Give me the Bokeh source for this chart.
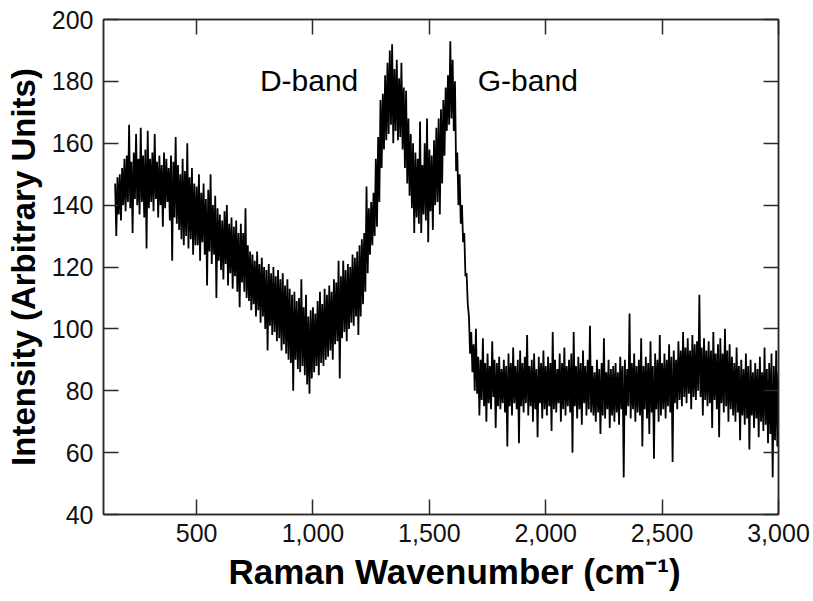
import numpy as np
from bokeh.plotting import figure
from bokeh.models import (LinearAxis, FixedTicker, NumeralTickFormatter, Label, Range1d,
                          CustomLabelingPolicy, Title)
from bokeh.embed import file_html
from bokeh.resources import INLINE

wavenumber_start = 150
wavenumber_step = 5
intensity = [
    147, 130, 149, 137, 150, 135, 152, 140, 155, 138,                                     # 150-195
    156, 141, 166, 139, 154, 131, 157, 142, 163, 140, 155, 137, 165, 141, 156, 136, 158, 126, 164, 139,  # 200
    155, 141, 157, 138, 163, 142, 154, 136, 156, 140, 153, 133, 157, 139, 155, 141, 152, 135, 156, 122,  # 300
    154, 136, 162, 134, 153, 132, 150, 129, 155, 127, 151, 130, 160, 126, 149, 129, 152, 124, 147, 127,  # 400
    146, 127, 150, 122, 144, 128, 147, 124, 142, 114, 145, 125, 150, 121, 140, 124, 143, 110, 139, 122,  # 500
    137, 119, 135, 116, 138, 121, 140, 114, 134, 118, 136, 113, 133, 117, 135, 112, 131, 107, 134, 115,  # 600
    131, 112, 139, 110, 127, 109, 125, 106, 124, 108, 122, 104, 125, 106, 121, 102, 123, 104, 120, 100,  # 700
    119, 93, 121, 101, 118, 98, 120, 99, 117, 96, 119, 97, 116, 93, 118, 95, 114, 92, 116, 90,            # 800
    113, 89, 111, 80, 112, 90, 109, 87, 110, 86, 116, 88, 107, 85, 111, 82, 104, 79, 106, 84,             # 900
    107, 86, 105, 88, 109, 85, 112, 89, 108, 88, 113, 90, 111, 91, 114, 93, 112, 90, 116, 95,             # 1000
    115, 96, 122, 84, 117, 97, 122, 99, 119, 96, 121, 100, 120, 102, 124, 101, 123, 104, 125, 98,         # 1100
    127, 104, 129, 108, 131, 112, 146, 118, 139, 124, 141, 127, 144, 130, 155, 133, 162, 141, 174, 152,  # 1200
    176, 158, 182, 161, 186, 163, 190, 166, 192, 160, 184, 164, 187, 161, 181, 162, 186, 158, 178, 152,  # 1300
    177, 147, 168, 143, 163, 139, 160, 131, 157, 136, 155, 134, 167, 131, 153, 137, 160, 135, 168, 128,  # 1400
    158, 138, 156, 132, 161, 140, 165, 141, 168, 137, 171, 147, 174, 156, 178, 164, 182, 166, 193, 168,  # 1500
    187, 164, 180, 151, 157, 140, 150, 134, 140, 128, 131, 117, 118, 108, 104, 92, 99, 86, 95, 80,       # 1600
    100, 79, 91, 72, 90, 77, 97, 75, 89, 70, 92, 76, 88, 74, 96, 78, 90, 68, 89, 75,                     # 1700
    91, 74, 87, 76, 90, 73, 88, 62, 92, 75, 89, 72, 94, 76, 88, 74, 90, 63, 93, 75,                      # 1800
    89, 73, 91, 76, 98, 72, 88, 75, 90, 70, 92, 74, 87, 65, 91, 76, 89, 71, 93, 74,                      # 1900
    88, 72, 91, 75, 89, 67, 99, 74, 90, 73, 87, 76, 92, 70, 89, 74, 94, 72, 88, 75,                      # 2000
    90, 73, 92, 60, 99, 75, 88, 71, 91, 74, 89, 69, 93, 76, 88, 72, 90, 74, 101, 73,                     # 2100
    88, 72, 86, 70, 90, 73, 87, 66, 89, 72, 97, 71, 86, 74, 90, 68, 87, 72, 88, 70,                      # 2200
    89, 73, 86, 69, 91, 74, 88, 52, 90, 72, 87, 75, 105, 71, 89, 74, 92, 70, 88, 73,                     # 2300
    90, 72, 97, 62, 88, 74, 91, 71, 89, 66, 96, 73, 88, 58, 92, 74, 90, 70, 98, 72,                      # 2400
    89, 74, 92, 71, 90, 75, 95, 73, 91, 57, 93, 76, 90, 74, 96, 77, 93, 75, 99, 78,                      # 2500
    94, 76, 97, 79, 93, 74, 98, 78, 95, 77, 96, 80, 111, 78, 94, 72, 97, 77, 93, 75,                     # 2600
    96, 76, 93, 68, 99, 77, 92, 74, 95, 65, 97, 76, 92, 73, 100, 75, 93, 70, 95, 74,                     # 2700
    91, 72, 89, 70, 94, 73, 88, 64, 90, 72, 87, 69, 92, 71, 88, 61, 90, 72, 86, 68,                      # 2800
    89, 71, 87, 65, 91, 70, 86, 67, 94, 69, 87, 63, 89, 66, 92, 52, 88, 64, 93, 62, 86,                  # 2900-3000
]

x_ticks = [500, 1000, 1500, 2000, 2500, 3000]
y_ticks = [40, 60, 80, 100, 120, 140, 160, 180, 200]
band_names = ["D-band", "G-band"]
band_name_x = [772, 1708]
band_name_y = [180.4, 180.4]
x_title = "Raman Wavenumber (cm\u207b\u00b9)"
y_title = "Intensity (Arbitrary Units)"

wavenumber = wavenumber_start + wavenumber_step * np.arange(len(intensity))

FONT = "Liberation Sans"
AXIS_COLOR = "#2b2b2b"

p = figure(width=813, height=601,
           x_range=Range1d(100, 3000), y_range=Range1d(40, 200),
           output_backend="svg", toolbar_location=None,
           min_border_left=103, min_border_right=35,
           min_border_top=19, min_border_bottom=87)

p.line(wavenumber, intensity, line_color="black", line_width=1.8)

p.grid.visible = False
p.outline_line_color = AXIS_COLOR
p.outline_line_width = 1.5
p.background_fill_color = "white"
p.border_fill_color = "white"

NO_LABELS = """
const n = indices.size;
for (let i = 0; i < n; i++) { indices.unset(i); }
return indices;
"""


def style_axis(ax, show_labels=True):
    ax.major_tick_in = 15
    ax.major_tick_out = 0
    ax.minor_tick_in = 0
    ax.minor_tick_out = 0
    ax.major_tick_line_color = AXIS_COLOR
    ax.major_tick_line_width = 1.5
    ax.axis_line_color = AXIS_COLOR
    ax.axis_line_width = 1.5
    ax.major_label_text_font = FONT
    ax.major_label_text_color = "#111111"
    ax.major_label_text_font_size = "25px"
    if not show_labels:
        ax.major_label_policy = CustomLabelingPolicy(code=NO_LABELS)
        ax.major_label_text_font_size = "1px"
        ax.major_label_standoff = 0
    ax.axis_label_text_font = FONT
    ax.axis_label_text_font_style = "bold"
    ax.axis_label_text_font_size = "33px"
    ax.axis_label_text_color = "black"


xa = p.xaxis[0]
ya = p.yaxis[0]
xa.ticker = FixedTicker(ticks=x_ticks)
xa.formatter = NumeralTickFormatter(format="0,0")
ya.ticker = FixedTicker(ticks=y_ticks)
style_axis(xa)
style_axis(ya)
xa.major_label_standoff = 9
ya.major_label_standoff = 10
ya.axis_label = y_title
ya.axis_label_standoff = 7

top = LinearAxis(ticker=FixedTicker(ticks=x_ticks))
right = LinearAxis(ticker=FixedTicker(ticks=y_ticks))
style_axis(top, show_labels=False)
style_axis(right, show_labels=False)
p.add_layout(top, "above")
p.add_layout(right, "right")

# x-axis title, set slightly right of the frame centre as in the reference
p.add_layout(Title(text=x_title, align="left", offset=125, standoff=10,
                   text_font=FONT, text_font_size="35px", text_font_style="bold",
                   text_color="black"), "below")

for name, bx, by in zip(band_names, band_name_x, band_name_y):
    p.add_layout(Label(x=bx, y=by, text=name, text_font=FONT, text_font_size="30px",
                       text_color="black", text_align="left", text_baseline="alphabetic"))

open("out.html", "w").write(file_html(p, INLINE))
